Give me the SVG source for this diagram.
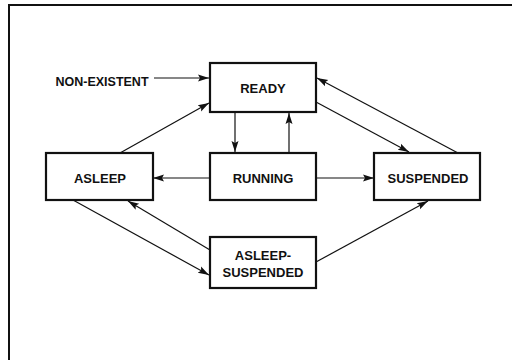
<svg xmlns="http://www.w3.org/2000/svg" width="512" height="360" viewBox="0 0 512 360">
<defs>
<marker id="ah" markerUnits="userSpaceOnUse" markerWidth="12" markerHeight="10" viewBox="0 0 12 10" refX="11" refY="5" orient="auto">
<path d="M0,1.5 L11,5 L0,8.5 L2,5 Z" fill="#111"/>
</marker>
<style>
.box{fill:#fff;stroke:#111;stroke-width:2.2}
.lbl{font-family:"Liberation Sans",Arial,Helvetica,sans-serif;font-weight:bold;font-size:13px;fill:#111;text-anchor:middle}
.c{fill:none;stroke:#111;stroke-width:1.2;marker-end:url(#ah)}
</style>
</defs>
<rect width="512" height="360" fill="#fff"/>
<path d="M9,360 V5 H512" fill="none" stroke="#111" stroke-width="2"/>
<g id="connectors">
<path class="c" d="M154,78 H209"/>
<path class="c" d="M120,153 L209,103"/>
<path class="c" d="M235,112 V152"/>
<path class="c" d="M289,153 V113"/>
<path class="c" d="M316,102 L409,152"/>
<path class="c" d="M458,153 L317,78"/>
<path class="c" d="M210,178 H153"/>
<path class="c" d="M316,178 H374"/>
<path class="c" d="M73,200 L209,275"/>
<path class="c" d="M210,250 L128,201"/>
<path class="c" d="M316,262 L428,201"/>
</g>
<g id="nonexistent">
<text class="lbl" x="102" y="86" style="font-size:12.5px">NON-EXISTENT</text>
</g>
<g id="ready">
<rect class="box" x="210" y="63" width="106" height="49"/>
<text class="lbl" x="263" y="93">READY</text>
</g>
<g id="running">
<rect class="box" x="210" y="153" width="106" height="47"/>
<text class="lbl" x="263" y="183">RUNNING</text>
</g>
<g id="asleep">
<rect class="box" x="46" y="153" width="107" height="47"/>
<text class="lbl" x="100" y="183">ASLEEP</text>
</g>
<g id="suspended">
<rect class="box" x="374" y="153" width="106" height="47"/>
<text class="lbl" x="428" y="183">SUSPENDED</text>
</g>
<g id="asleep-suspended">
<rect class="box" x="210" y="237" width="106" height="51"/>
<text class="lbl" x="263" y="260">ASLEEP-</text>
<text class="lbl" x="263" y="277">SUSPENDED</text>
</g>
</svg>
